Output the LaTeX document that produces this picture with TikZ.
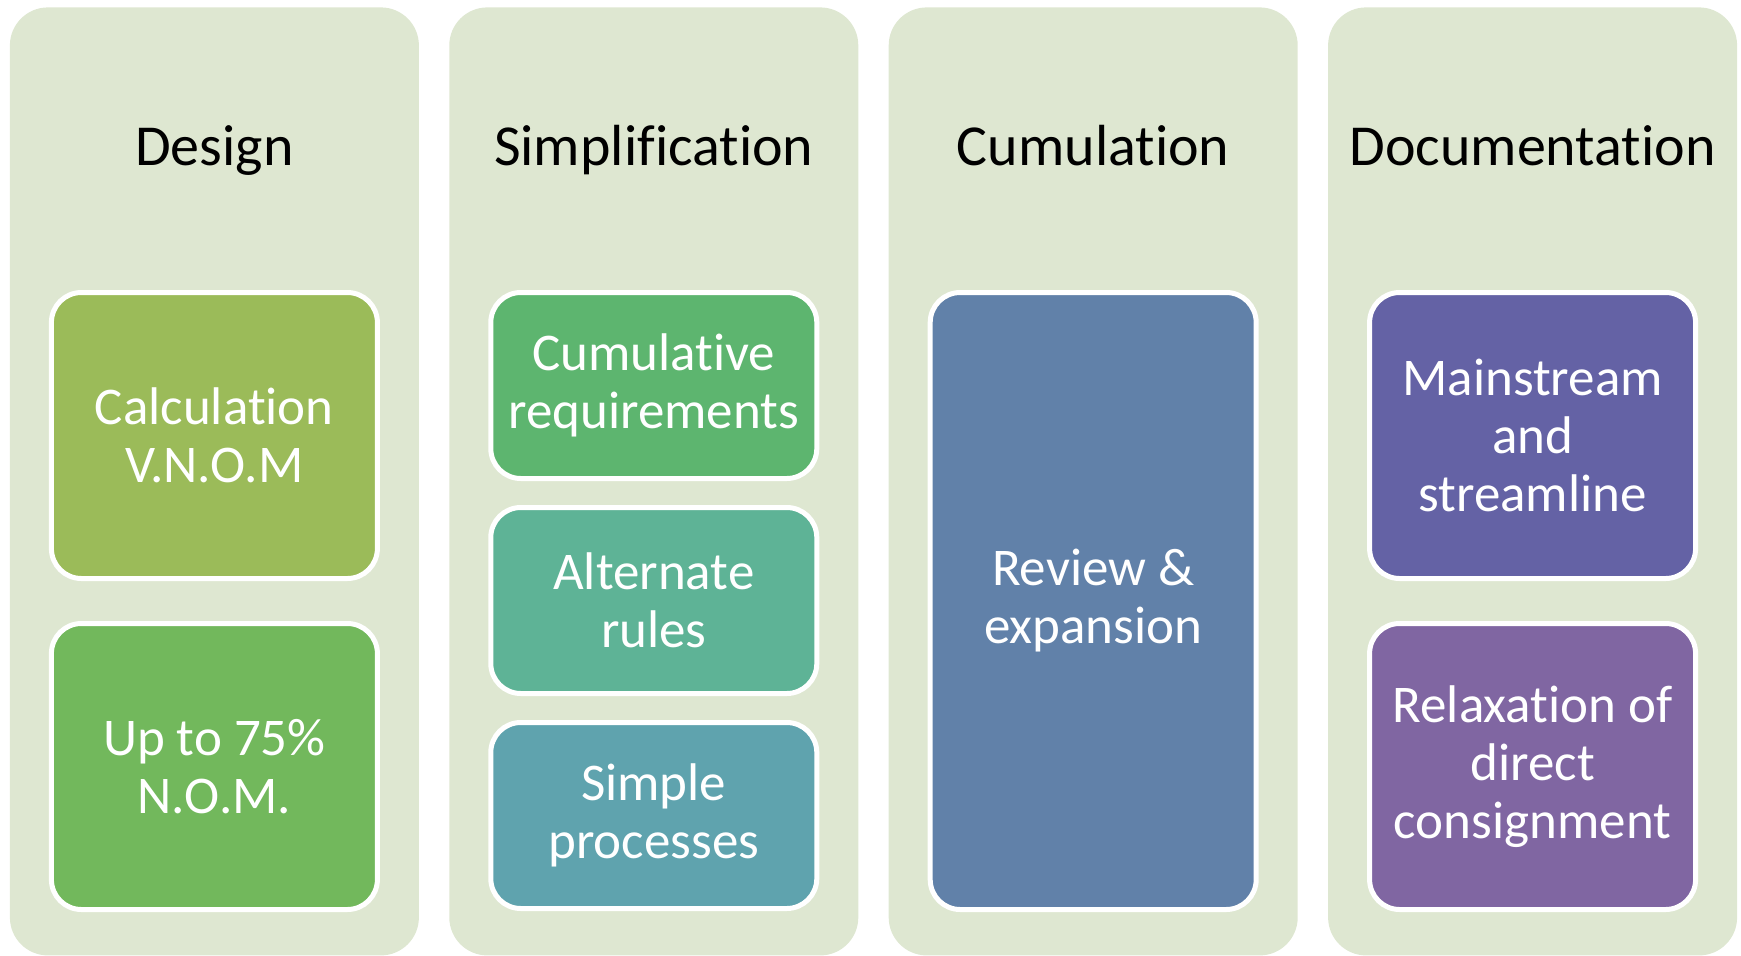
\documentclass[tikz,border=0pt]{standalone}
\usepackage{fontspec}
\setmainfont{Carlito}[Ligatures=NoCommon]
\usetikzlibrary{positioning}
\definecolor{lanebg}{RGB}{222,231,209}
\definecolor{calcgreen}{RGB}{155,187,89}
\definecolor{nomgreen}{RGB}{114,184,92}
\definecolor{cumgreen}{RGB}{93,181,111}
\definecolor{altteal}{RGB}{94,179,150}
\definecolor{simpteal}{RGB}{95,163,174}
\definecolor{revblue}{RGB}{97,129,169}
\definecolor{mainpurple}{RGB}{100,98,165}
\definecolor{relaxpurple}{RGB}{128,102,162}
\begin{document}
\begin{tikzpicture}[lane/.style={rectangle, rounded corners=19pt, fill=lanebg, minimum width=204.5pt, minimum height=474pt},heading/.style={font=\fontsize{29}{34}\selectfont, inner sep=0pt},item/.style={rectangle, rounded corners=15pt, draw=white, line width=2.5pt, minimum width=163pt, text=white, align=center, font=\fontsize{26.5}{29}\selectfont},tall/.style={item, minimum height=143pt},short/.style={item, minimum height=93pt},long/.style={item, minimum height=308.5pt},]
            \node[lane] (design) {};
            \node[lane, right=14.8pt of design] (simpl) {};
            \node[lane, right=14.8pt of simpl] (cumul) {};
            \node[lane, right=14.8pt of cumul] (docu) {};
            \useasboundingbox ([xshift=-4.75pt,yshift=3.5pt]design.north west) rectangle ++(870.5pt,-477.5pt);
            \node[heading, below=79pt of design.north, anchor=base] (design_h) {Design};
            \node[heading, below=79pt of simpl.north, anchor=base] (simpl_h) {Simplification};
            \node[heading, below=79pt of cumul.north, anchor=base] (cumul_h) {Cumulation};
            \node[heading, below=79pt of docu.north, anchor=base] (docu_h) {Documentation};
            \node[tall, fill=calcgreen, below=141.5pt of design.north] (calc) {Calculation\\V.N.O.M};
            \node[tall, fill=nomgreen, below=20pt of calc] (nom) {Up to 75\%\\N.O.M.};
            \node[short, fill=cumgreen, below=141.5pt of simpl.north] (cumreq) {Cumulative\\requirements};
            \node[short, fill=altteal, below=12pt of cumreq] (altrules) {Alternate\\rules};
            \node[short, fill=simpteal, below=12pt of altrules] (simpproc) {Simple\\processes};
            \node[long, fill=revblue, below=141.5pt of cumul.north] (review) {Review \&\\expansion};
            \node[tall, fill=mainpurple, below=141.5pt of docu.north] (mainstr) {Mainstream\\and\\streamline};
            \node[tall, fill=relaxpurple, below=20pt of mainstr] (relax) {Relaxation of\\direct\\consignment};
        \end{tikzpicture}
\end{document}
